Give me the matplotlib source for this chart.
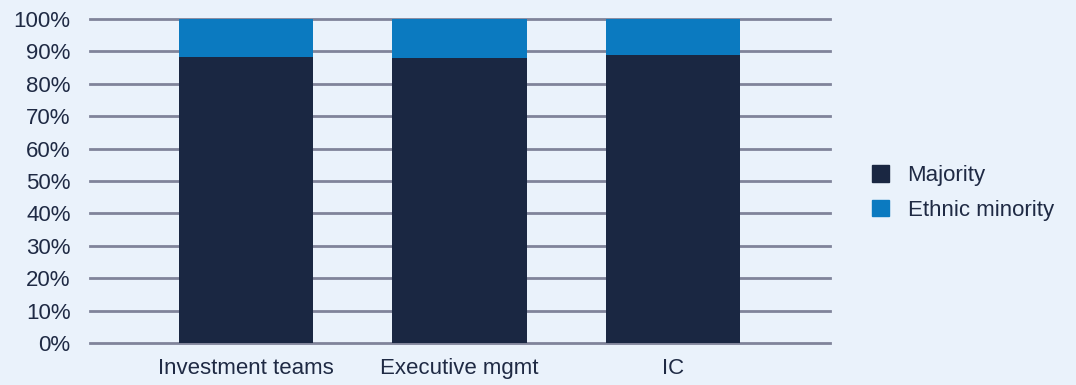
import matplotlib.pyplot as plt
from matplotlib.patches import Patch

plt.rcParams['font.family'] = ['Liberation Sans', 'DejaVu Sans']

CATEGORIES = ['Investment teams', 'Executive mgmt', 'IC']
MAJORITY = [88.3, 88.0, 88.9]
ETHNIC_MINORITY = [11.7, 12.0, 11.1]

BG = '#EAF2FB'
NAVY = '#1A2742'
BLUE = '#0B7AC0'
GRID = '#80849A'
TEXT = '#1F2A44'

fig = plt.figure(figsize=(10.76, 3.85), dpi=100, facecolor=BG)
ax = fig.add_axes([90 / 1076, 1 - 343 / 385, 740 / 1076, 324 / 385])
ax.set_facecolor(BG)

x = range(len(CATEGORIES))
ax.bar(x, MAJORITY, width=0.628, color=NAVY, zorder=3, label='Majority')
ax.bar(x, ETHNIC_MINORITY, bottom=MAJORITY, width=0.628, color=BLUE, zorder=3,
       label='Ethnic minority')

ax.set_xlim(-0.73, 2.735)
ax.set_ylim(0, 100)
ax.set_yticks(range(0, 101, 10))
ax.set_yticklabels([f'{v}%' for v in range(0, 101, 10)])
ax.set_xticks(list(x))
ax.set_xticklabels(CATEGORIES)
ax.yaxis.grid(True, color=GRID, linewidth=2, zorder=1)
for line in ax.get_ygridlines():
    line.set_clip_on(False)
ax.tick_params(length=0, labelsize=16, labelcolor=TEXT)
ax.tick_params(axis='y', pad=14)
ax.tick_params(axis='x', pad=11)
for s in ax.spines.values():
    s.set_visible(False)

handles = [Patch(color=NAVY, label='Majority'),
           Patch(color=BLUE, label='Ethnic minority')]
fig.legend(handles=handles, loc='center left', bbox_to_anchor=(872 / 1076, 1 - 193 / 385),
           frameon=False, fontsize=16, labelcolor=TEXT, handlelength=0.75,
           handleheight=0.75, handletextpad=0.85, labelspacing=0.6, borderpad=0,
           borderaxespad=0)

fig.savefig('out.png', dpi=100, facecolor=BG)
